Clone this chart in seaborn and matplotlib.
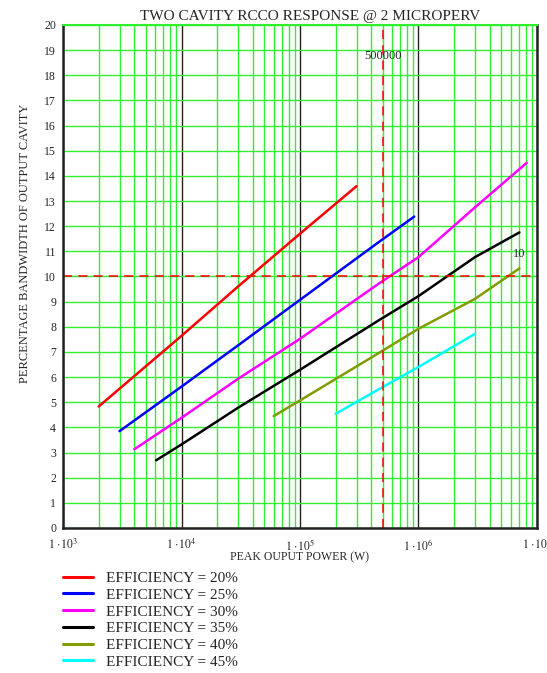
import numpy as np
import pandas as pd
import matplotlib
matplotlib.use('Agg')
from matplotlib import pyplot as plt
from matplotlib.ticker import LogLocator, MultipleLocator, FuncFormatter, NullFormatter
import seaborn as sns

# values (power in W, bandwidth in %)
efficiency = ['20%', '25%', '30%', '35%', '40%', '45%']
power_20 = [2e3, 1e4, 3e4, 1e5, 3e5]
bw_20 = [4.83, 7.64, 9.6, 11.7, 13.59]
power_25 = [3e3, 1e4, 3e4, 1e5, 4.6e5, 9.2e5]
bw_25 = [3.85, 5.62, 7.26, 9.07, 11.36, 12.38]
power_30 = [4e3, 1e4, 3e4, 1e5, 4.6e5, 1e6, 3e6, 8.2e6]
bw_30 = [3.13, 4.38, 5.93, 7.52, 9.71, 10.77, 12.75, 14.52]
power_35 = [6.1e3, 1e4, 3e4, 1e5, 4.6e5, 1e6, 3e6, 7.1e6]
bw_35 = [2.69, 3.32, 4.78, 6.29, 8.25, 9.22, 10.77, 11.75]
power_40 = [6e4, 1e5, 4.6e5, 1e6, 3e6, 7.1e6]
bw_40 = [4.45, 5.07, 6.95, 7.92, 9.11, 10.32]
power_45 = [2e5, 4.6e5, 1e6, 3e6]
bw_45 = [4.54, 5.51, 6.4, 7.72]

bw_limit = 10
power_marker = 5e5

colors = ['#ff0000', '#0000ff', '#ff00ff', '#000000', '#809c00', '#00ffff']

powers = [power_20, power_25, power_30, power_35, power_40, power_45]
bws = [bw_20, bw_25, bw_30, bw_35, bw_40, bw_45]
df = pd.concat([
    pd.DataFrame({'power': p, 'bw': b, 'eff': 'EFFICIENCY = ' + e})
    for p, b, e in zip(powers, bws, efficiency)
], ignore_index=True)
palette = dict(zip(['EFFICIENCY = ' + e for e in efficiency], colors))

sns.set_style('white')
plt.rcParams['font.family'] = ['Liberation Serif', 'DejaVu Serif']
plt.rcParams['mathtext.fontset'] = 'stix'

fig = plt.figure(figsize=(5.47, 6.73), dpi=100)
ax = fig.add_axes([0.1152, 0.2155, 0.8665, 0.7474])

green = '#30ee30'
ax.set_xscale('log')
ax.set_xlim(1e3, 1e7)
ax.set_ylim(0, 20)
ax.xaxis.set_major_locator(LogLocator(base=10, numticks=10))
ax.xaxis.set_minor_locator(LogLocator(base=10, subs=np.arange(2, 10), numticks=20))
ax.xaxis.set_minor_formatter(NullFormatter())
ax.xaxis.set_major_formatter(FuncFormatter(lambda v, p: r'$1\,\cdot\!10^{%d}$' % int(round(np.log10(v)))))
ax.yaxis.set_major_locator(MultipleLocator(1))
ax.grid(which='minor', axis='x', color=green, lw=1.0)
ax.grid(which='major', axis='x', color='#222222', lw=1.0)
ax.grid(which='major', axis='y', color=green, lw=1.0)
ax.set_axisbelow(True)

sns.lineplot(data=df, x='power', y='bw', hue='eff', palette=palette, sort=False,
             estimator=None, lw=1.8, ax=ax)

ax.axhline(bw_limit, color='#ff0000', ls=(0, (6, 4)), lw=1.1)
ax.axvline(power_marker, color='#ff0000', ls=(0, (6, 4)), lw=1.1)
ax.text(power_marker, 18.75, '500000', ha='center', va='center', fontsize=9)
ax.text(7.1e6, 10.9, '10', ha='center', va='center', fontsize=9)

for s in ['left', 'bottom', 'right']:
    ax.spines[s].set_color('#222222')
    ax.spines[s].set_linewidth(1.8)
ax.spines['top'].set_color(green)
ax.spines['top'].set_linewidth(1.5)

ax.tick_params(axis='both', which='both', length=0, labelsize=8.5)
ax.tick_params(axis='x', pad=7)
ax.tick_params(axis='y', pad=5)

ax.set_xlabel('PEAK OUPUT POWER (W)', fontsize=8.5)
ax.xaxis.set_label_coords(0.498, -0.059)
ax.xaxis.label.set_va('center')
ax.set_ylabel('PERCENTAGE BANDWIDTH OF OUTPUT CAVITY', fontsize=9)
ax.yaxis.set_label_coords(-0.08, 0.565)
ax.yaxis.label.set_va('center')

fig.text(310 / 547, 1 - 16.5 / 673, 'TWO CAVITY RCCO RESPONSE @ 2 MICROPERV',
         ha='center', va='center', fontsize=11)

handles, labels = ax.get_legend_handles_labels()
ax.get_legend().remove()
for h in handles:
    h.set_linewidth(2.2)
fig.legend(handles, labels, loc='upper left', bbox_to_anchor=(0.115, 0.151),
           frameon=False, fontsize=11, handlelength=2.0, handletextpad=0.8,
           labelspacing=0.2, borderpad=0, borderaxespad=0)

fig.savefig('out.png', dpi=100)
